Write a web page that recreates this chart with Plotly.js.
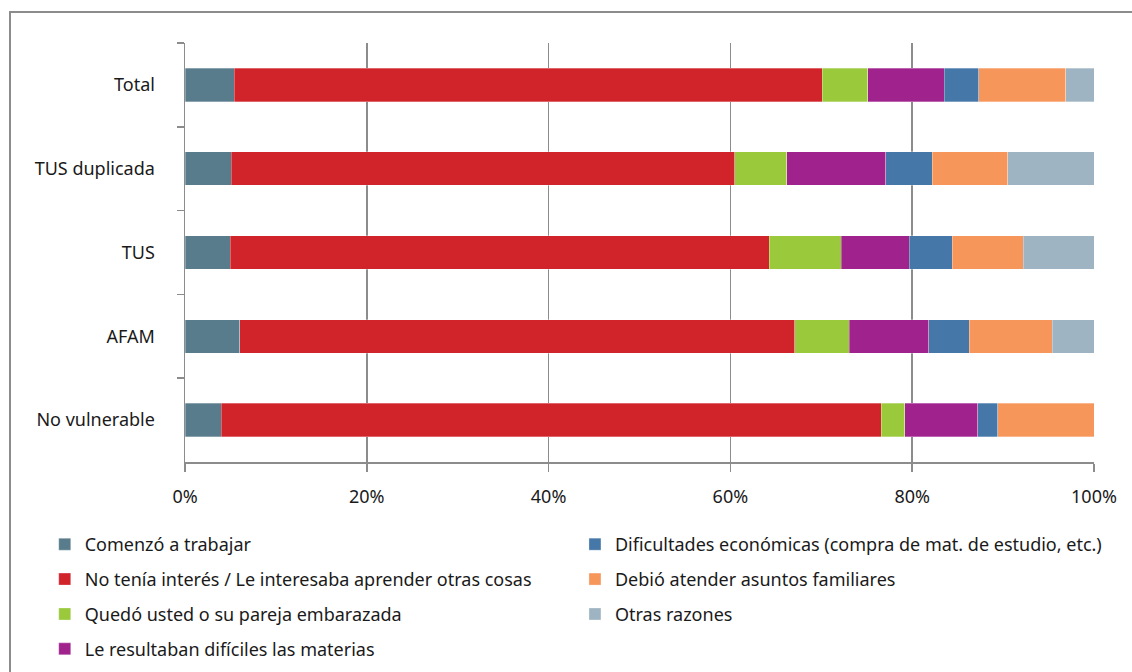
<!DOCTYPE html>
<html>
<head>
<meta charset="utf-8">
<script src="https://cdn.plot.ly/plotly-3.0.1.min.js"></script>
<style>
  html, body { margin: 0; padding: 0; background: #fff; }
  #wrap { position: relative; width: 1132px; height: 672px; overflow: hidden; }
  #chart { position: absolute; left: 0; top: 0; width: 1132px; height: 672px; }
  #frame { position: absolute; left: 9px; top: 11px; width: 1140px; height: 700px;
           border-top: 2px solid #8c8c8c; border-left: 2px solid #8c8c8c; pointer-events: none; }
</style>
</head>
<body>
<div id="wrap">
  <div id="chart"></div>
  <div id="frame"></div>
</div>
<script>
const categories = ["Total", "TUS duplicada", "TUS", "AFAM", "No vulnerable"];

const comenzoTrabajar   = [5.4, 5.1, 5.0, 6.0, 4.0];
const noTeniaInteres    = [64.7, 55.4, 59.3, 61.1, 72.6];
const quedoEmbarazada   = [5.0, 5.7, 7.9, 6.0, 2.6];
const materiasDificiles = [8.4, 10.9, 7.5, 8.7, 8.0];
const dificultadesEcon  = [3.8, 5.1, 4.7, 4.5, 2.2];
const asuntosFamiliares = [9.6, 8.3, 7.8, 9.1, 10.6];
const otrasRazones      = [3.1, 9.5, 7.8, 4.6, 0.0];

const xTickVals = [0, 20, 40, 60, 80, 100];
const xTickText = ["0%", "20%", "40%", "60%", "80%", "100%"];

const seriesDefs = [
  {name: "Comenzó a trabajar", values: comenzoTrabajar, color: "#587C8B", legend: "legend", rank: 1},
  {name: "No tenía interés / Le interesaba aprender otras cosas", values: noTeniaInteres, color: "#D0232A", legend: "legend", rank: 2},
  {name: "Quedó usted o su pareja embarazada", values: quedoEmbarazada, color: "#9BC93C", legend: "legend", rank: 3},
  {name: "Le resultaban difíciles las materias", values: materiasDificiles, color: "#A0228D", legend: "legend", rank: 4},
  {name: "Dificultades económicas (compra de mat. de estudio, etc.)", values: dificultadesEcon, color: "#4577A8", legend: "legend2", rank: 5},
  {name: "Debió atender asuntos familiares", values: asuntosFamiliares, color: "#F6965A", legend: "legend2", rank: 6},
  {name: "Otras razones", values: otrasRazones, color: "#9FB4C2", legend: "legend2", rank: 7}
];

const traces = seriesDefs.map((s, i) => ({
  type: "bar",
  orientation: "h",
  name: s.name,
  y: categories,
  x: s.values,
  marker: {color: s.color, line: {width: 0.6, color: "rgba(255,255,255,0.5)"}},
  legend: s.legend,
  legendgroup: "g" + i,
  legendrank: s.rank,
  hoverinfo: "name+x"
}));

const gray = "#8c8c8c";
const fontFam = "'Noto Sans', 'Open Sans', sans-serif";
const fs = 18;

const layout = {
  width: 1132,
  height: 672,
  barmode: "stack",
  bargap: 0.6,
  paper_bgcolor: "#fff",
  plot_bgcolor: "#fff",
  margin: {l: 185, r: 38, t: 43, b: 210},
  font: {family: fontFam, size: fs, color: "#1a1a1a"},
  showlegend: true,
  xaxis: {
    range: [0, 100],
    tickvals: xTickVals,
    ticktext: xTickText,
    showgrid: true,
    gridcolor: gray,
    gridwidth: 1.5,
    zeroline: false,
    showline: true,
    linecolor: gray,
    linewidth: 1.5,
    ticks: "outside",
    ticklen: 8,
    tickwidth: 1.5,
    tickcolor: gray,
    ticklabelstandoff: 10,
    tickfont: {family: fontFam, size: fs, color: "#1a1a1a"},
    fixedrange: true
  },
  yaxis: {
    type: "category",
    autorange: "reversed",
    tickson: "boundaries",
    ticks: "outside",
    ticklen: 7,
    tickwidth: 1.5,
    tickcolor: gray,
    showline: true,
    linecolor: gray,
    linewidth: 1.5,
    showgrid: false,
    zeroline: false,
    ticklabelstandoff: 25,
    tickfont: {family: fontFam, size: fs, color: "#1a1a1a"},
    fixedrange: true
  },
  legend: {
    orientation: "v",
    xref: "paper",
    x: -0.1543,
    xanchor: "left",
    yref: "container",
    y: 0.2173,
    yanchor: "top",
    traceorder: "grouped",
    tracegroupgap: 8.5,
    font: {family: fontFam, size: fs, color: "#1a1a1a"},
    bgcolor: "rgba(0,0,0,0)",
    borderwidth: 0
  },
  legend2: {
    orientation: "v",
    xref: "paper",
    x: 0.4290,
    xanchor: "left",
    yref: "container",
    y: 0.2173,
    yanchor: "top",
    traceorder: "grouped",
    tracegroupgap: 8.5,
    font: {family: fontFam, size: fs, color: "#1a1a1a"},
    bgcolor: "rgba(0,0,0,0)",
    borderwidth: 0
  }
};

Plotly.newPlot("chart", traces, layout, {displayModeBar: false, staticPlot: true});
</script>
</body>
</html>
